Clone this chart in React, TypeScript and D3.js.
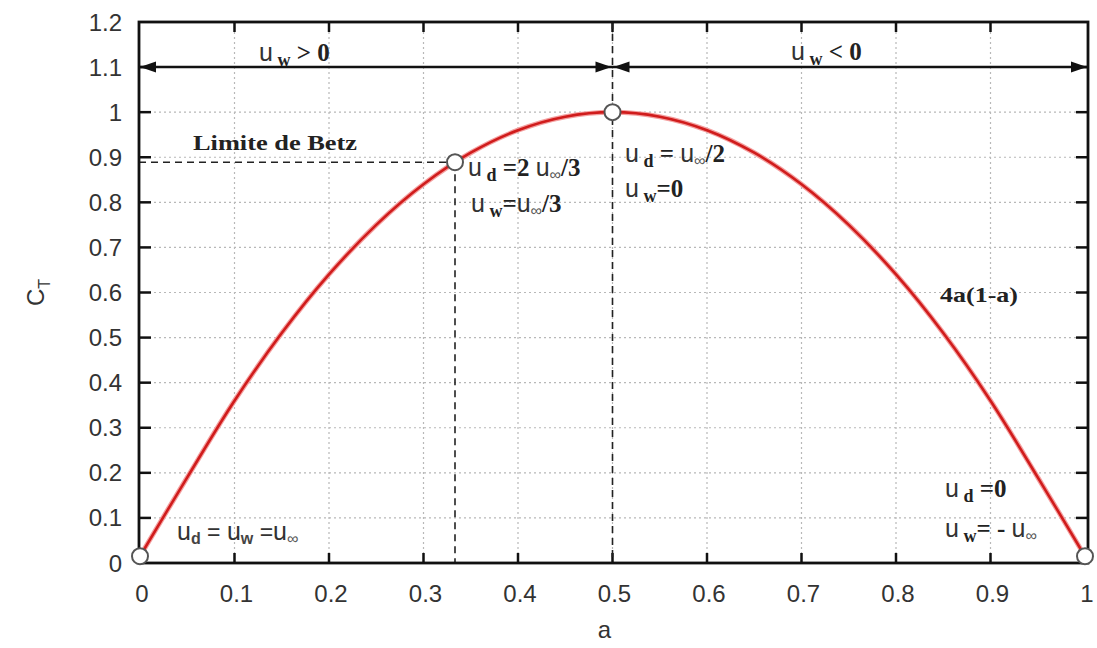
import * as d3 from "d3"

// a values (step 0.05) and the thrust coefficient C_T
const aValues = [0, 0.05, 0.1, 0.15, 0.2, 0.25, 0.3, 0.35, 0.4, 0.45, 0.5, 0.55, 0.6, 0.65, 0.7, 0.75, 0.8, 0.85, 0.9, 0.95, 1]
const ctValues = [0.015, 0.19, 0.36, 0.51, 0.64, 0.75, 0.84, 0.91, 0.96, 0.99, 1.0, 0.99, 0.96, 0.91, 0.84, 0.75, 0.64, 0.51, 0.36, 0.19, 0.015]

// marked points: start, Betz limit, maximum, end
const markerA = [0, 1 / 3, 0.5, 1]
const markerCt = [0.015, 0.889, 1.0, 0.015]

const xTicks = [0, 0.1, 0.2, 0.3, 0.4, 0.5, 0.6, 0.7, 0.8, 0.9, 1]
const yTicks = [0, 0.1, 0.2, 0.3, 0.4, 0.5, 0.6, 0.7, 0.8, 0.9, 1, 1.1, 1.2]

const betzA = 1 / 3
const betzCt = 0.889
const arrowCt = 1.1

const W = 1097
const H = 648
const SANS = "'Liberation Sans', Arial, sans-serif"
const SERIF = "'Liberation Serif', 'Times New Roman', serif"

type Seg = { t: string; k: "u" | "sub" | "b" | "inf" | "n" | "gsub" }

// baseline shift for each kind of piece
const shift: Record<Seg["k"], number> = { u: 0, b: 0, n: 0, sub: 5, inf: 4, gsub: 4 }

function Formula({ x, y, segs }: { x: number; y: number; segs: Seg[] }) {
  let prev = 0
  return (
    <text x={x} y={y} fill="#222">
      {segs.map((s, i) => {
        const dy = shift[s.k] - prev
        prev = shift[s.k]
        if (s.k === "u") return <tspan key={i} dy={dy} fontFamily={SANS} fontSize={25} fill="#333">{s.t}</tspan>
        if (s.k === "sub") return <tspan key={i} dy={dy} fontFamily={SERIF} fontWeight="bold" fontSize={18}>{s.t}</tspan>
        if (s.k === "inf") return <tspan key={i} dy={dy} fontFamily={SANS} fontSize={16} fill="#555">{s.t}</tspan>
        if (s.k === "gsub") return <tspan key={i} dy={dy} fontFamily={SANS} fontWeight="bold" fontSize={16} fill="#444">{s.t}</tspan>
        if (s.k === "n") return <tspan key={i} dy={dy} fontFamily={SANS} fontSize={23} fill="#333">{s.t}</tspan>
        return <tspan key={i} dy={dy} fontFamily={SERIF} fontWeight="bold" fontSize={25}>{s.t}</tspan>
      })}
    </text>
  )
}

export default function App() {
  const x = d3.scaleLinear().domain([0, 1]).range([140, 1085])
  const y = d3.scaleLinear().domain([0, 1.2]).range([563, 22])

  const pts = aValues.map((a, i) => [a, ctValues[i]] as [number, number])
  const line = d3.line<[number, number]>()
    .x((d) => x(d[0]))
    .y((d) => y(d[1]))
    .curve(d3.curveCatmullRom.alpha(0.5))

  const left = 139
  const right = 1088
  const top = y(1.2)
  const bottom = y(0)

  const arrowHead = (px: number, py: number, dir: 1 | -1) => {
    const l = 16
    const h = 5.5
    return `M${px},${py} L${px - dir * l},${py - h} L${px - dir * l},${py + h} Z`
  }

  return (
    <div style={{ position: "absolute", left: 0, top: 0, background: "#fff" }}>
      <svg width={W} height={H} style={{ display: "block" }}>
        <rect width={W} height={H} fill="#fff" />

        {/* grid */}
        {xTicks.slice(1, -1).map((t) => (
          <line key={"gx" + t} x1={x(t)} x2={x(t)} y1={top} y2={bottom} stroke="#b8b8b8" strokeWidth={1.2} strokeDasharray="2,3" />
        ))}
        {yTicks.slice(1, -1).map((t) => (
          <line key={"gy" + t} x1={left} x2={right} y1={y(t)} y2={y(t)} stroke="#b8b8b8" strokeWidth={1.2} strokeDasharray="2,3" />
        ))}

        {/* ticks on all four sides */}
        {xTicks.slice(1, -1).map((t) => (
          <g key={"tx" + t}>
            <line x1={x(t)} x2={x(t)} y1={bottom} y2={bottom - 10} stroke="#111" strokeWidth={2.5} />
            <line x1={x(t)} x2={x(t)} y1={top} y2={top + 10} stroke="#111" strokeWidth={2.5} />
          </g>
        ))}
        {yTicks.slice(1, -1).map((t) => (
          <g key={"ty" + t}>
            <line x1={left} x2={left + 12} y1={y(t)} y2={y(t)} stroke="#111" strokeWidth={2.5} />
            <line x1={right} x2={right - 12} y1={y(t)} y2={y(t)} stroke="#111" strokeWidth={2.5} />
          </g>
        ))}

        {/* Betz dashed guides and a = 0.5 guide */}
        <line x1={left} x2={x(betzA)} y1={y(betzCt)} y2={y(betzCt)} stroke="#222" strokeWidth={1.6} strokeDasharray="7,5" />
        <line x1={x(betzA)} x2={x(betzA)} y1={y(betzCt)} y2={bottom} stroke="#222" strokeWidth={1.6} strokeDasharray="7,5" />
        <line x1={x(0.5)} x2={x(0.5)} y1={top} y2={bottom} stroke="#222" strokeWidth={1.6} strokeDasharray="7,5" />

        {/* arrows at C_T = 1.1 */}
        <line x1={left} x2={right} y1={y(arrowCt)} y2={y(arrowCt)} stroke="#111" strokeWidth={2.5} />
        <path d={arrowHead(left + 1, y(arrowCt), -1)} fill="#111" />
        <path d={arrowHead(x(0.5) - 1, y(arrowCt), 1)} fill="#111" />
        <path d={arrowHead(x(0.5) + 1, y(arrowCt), -1)} fill="#111" />
        <path d={arrowHead(right - 1, y(arrowCt), 1)} fill="#111" />

        {/* curve */}
        <path d={line(pts) ?? ""} fill="none" stroke="#f4a0a0" strokeWidth={5} />
        <path d={line(pts) ?? ""} fill="none" stroke="#d01c1c" strokeWidth={2.6} />

        {/* frame */}
        <rect x={left} y={top} width={right - left} height={bottom - top} fill="none" stroke="#111" strokeWidth={2.8} />

        {/* markers */}
        {markerA.map((a, i) => (
          <circle key={"m" + i} cx={x(a)} cy={y(markerCt[i])} r={8} fill="#fff" stroke="#555" strokeWidth={2} />
        ))}

        {/* tick labels */}
        {xTicks.map((t) => (
          <text key={"lx" + t} x={x(t) + 2} y={602} textAnchor="middle" fontFamily={SANS} fontSize={24} fill="#333">
            {d3.format("~g")(t)}
          </text>
        ))}
        {yTicks.map((t) => (
          <text key={"ly" + t} x={left - 17} y={y(t) + 8.5} textAnchor="end" fontFamily={SANS} fontSize={24} fill="#333">
            {d3.format("~g")(t)}
          </text>
        ))}

        {/* axis titles */}
        <text x={x(0.5) - 8} y={638} textAnchor="middle" fontFamily={SANS} fontSize={24} fill="#333">a</text>
        <text transform={`translate(44,${y(0.6)}) rotate(-90)`} textAnchor="middle" fontFamily={SANS} fontSize={24} fill="#333">
          C<tspan fontSize={16} dy={6}>T</tspan>
        </text>

        {/* annotations */}
        <Formula x={259} y={61} segs={[{ t: "u", k: "u" }, { t: " w", k: "sub" }, { t: " > 0", k: "b" }]} />
        <Formula x={791} y={60} segs={[{ t: "u", k: "u" }, { t: " w", k: "sub" }, { t: " < 0", k: "b" }]} />
        <text x={193} y={150} fontFamily={SERIF} fontWeight="bold" fontSize={22} fill="#222" textLength={164} lengthAdjust="spacingAndGlyphs">Limite de Betz</text>

        <Formula x={468} y={176} segs={[{ t: "u", k: "u" }, { t: " d", k: "sub" }, { t: " =2 ", k: "b" }, { t: "u", k: "u" }, { t: "∞", k: "inf" }, { t: "/3", k: "b" }]} />
        <Formula x={471} y={212} segs={[{ t: "u", k: "u" }, { t: " w", k: "sub" }, { t: "=", k: "b" }, { t: "u", k: "u" }, { t: "∞", k: "inf" }, { t: "/3", k: "b" }]} />

        <Formula x={625} y={162} segs={[{ t: "u", k: "u" }, { t: " d", k: "sub" }, { t: " = ", k: "b" }, { t: "u", k: "u" }, { t: "∞", k: "inf" }, { t: "/2", k: "b" }]} />
        <Formula x={625} y={197} segs={[{ t: "u", k: "u" }, { t: " w", k: "sub" }, { t: "=0", k: "b" }]} />

        <text x={940} y={302} fontFamily={SERIF} fontWeight="bold" fontSize={22} fill="#222" textLength={78} lengthAdjust="spacingAndGlyphs">4a(1-a)</text>

        <Formula x={177} y={540} segs={[{ t: "u", k: "u" }, { t: "d", k: "gsub" }, { t: " =  ", k: "n" }, { t: "u", k: "u" }, { t: "w", k: "gsub" }, { t: " =", k: "n" }, { t: "u", k: "u" }, { t: "∞", k: "inf" }]} />

        <Formula x={945} y={497} segs={[{ t: "u", k: "u" }, { t: " d", k: "sub" }, { t: " =0", k: "b" }]} />
        <Formula x={945} y={537} segs={[{ t: "u", k: "u" }, { t: " w", k: "sub" }, { t: "= - ", k: "b" }, { t: "u", k: "u" }, { t: "∞", k: "inf" }]} />
      </svg>
    </div>
  )
}
